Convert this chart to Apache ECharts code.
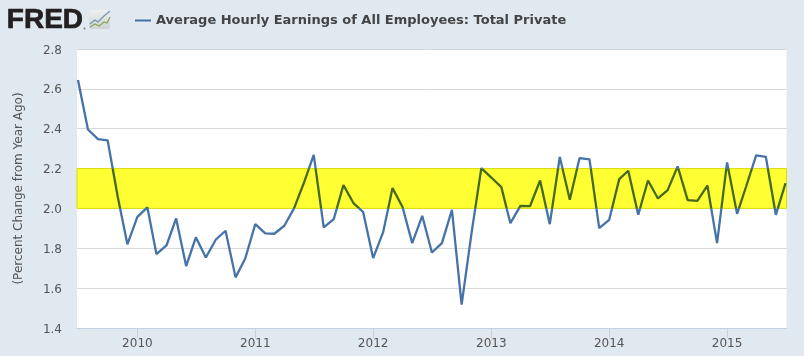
<!DOCTYPE html>
<html>
<head>
<meta charset="utf-8">
<title>Average Hourly Earnings</title>
<script src="https://cdn.jsdelivr.net/npm/echarts@6/dist/echarts.min.js"></script>
<style>
    html, body { margin: 0; padding: 0; background: #e1e9f0; }
    #chart { width: 804px; height: 356px; }
</style>
</head>
<body>
<div id="chart"></div>
<script>
const seriesName = 'Average Hourly Earnings of All Employees: Total Private';
const yAxisName = '(Percent Change from Year Ago)';

// monthly, 2009-07 to 2015-07
const startYear = 2009;
const startMonth = 7;
const earnings = [
    2.644, 2.396, 2.348, 2.341, 2.06, 1.82,
    1.958, 2.005, 1.771, 1.814, 1.95, 1.711, 1.855, 1.754, 1.844, 1.888, 1.654, 1.749,
    1.921, 1.875, 1.873, 1.913, 2.0, 2.13, 2.269, 1.905, 1.946, 2.117, 2.027, 1.982,
    1.751, 1.881, 2.102, 2.007, 1.826, 1.963, 1.779, 1.826, 1.993, 1.517, 1.88, 2.202,
    2.155, 2.107, 1.926, 2.013, 2.012, 2.14, 1.921, 2.258, 2.043, 2.252, 2.246, 1.901,
    1.943, 2.147, 2.189, 1.968, 2.14, 2.05, 2.092, 2.211, 2.042, 2.038, 2.115, 1.826,
    2.231, 1.973, 2.11, 2.266, 2.259, 1.968, 2.127
];
const yearTicks = [2010, 2011, 2012, 2013, 2014, 2015];
const bandLow = 2.0;
const bandHigh = 2.2;

const seriesData = earnings.map((v, i) => [new Date(startYear, startMonth - 1 + i, 1).getTime(), v]);
const yearStamps = yearTicks.map(y => new Date(y, 0, 1).getTime());

const fontName = '"DejaVu Sans", Verdana, sans-serif';
const lineBlue = '#4572a7';
const lineOlive = '#466a1c';

const myChart = echarts.init(document.getElementById('chart'));
const option = {
    animation: false,
    backgroundColor: '#e1e9f0',
    textStyle: { fontFamily: fontName },
    grid: { left: 77, right: 17.5, top: 49, bottom: 28, containLabel: false, backgroundColor: '#fff', show: true, borderWidth: 0 },
    legend: {
        left: 130,
        top: 9,
        itemWidth: 16,
        itemHeight: 2,
        selectedMode: false,
        data: [{ name: seriesName, icon: 'rect', itemStyle: { color: lineBlue } }],
        textStyle: { fontSize: 13, fontWeight: 'bold', color: '#444', fontFamily: fontName }
    },
    xAxis: {
        // plain value axis over timestamps, so the yearly ticks can be given directly
        type: 'value',
        min: new Date(2009, 5, 28).getTime(),
        max: new Date(2015, 6, 4).getTime(),
        axisLine: { lineStyle: { color: '#c0d0e0', width: 1 } },
        axisTick: {
            show: true,
            length: 10,
            lineStyle: { color: '#c0d0e0', width: 1 },
            customValues: yearStamps
        },
        axisLabel: {
            customValues: yearStamps,
            formatter: (v) => String(new Date(v).getFullYear()),
            color: '#555',
            fontSize: 12,
            margin: 10
        },
        splitLine: { show: false }
    },
    yAxis: {
        type: 'value',
        min: 1.4,
        max: 2.8,
        interval: 0.2,
        name: yAxisName,
        nameLocation: 'middle',
        nameGap: 52,
        nameTextStyle: { color: '#555', fontSize: 12 },
        axisLine: { show: false },
        axisTick: { show: false },
        axisLabel: {
            color: '#555',
            fontSize: 12,
            margin: 15,
            // labels sit a little below their gridlines
            verticalAlign: 'top',
            lineHeight: 3,
            formatter: (v) => v.toFixed(1)
        },
        splitLine: { lineStyle: { color: '#d8d8d8', width: 1 } }
    },
    visualMap: {
        show: false,
        type: 'piecewise',
        seriesIndex: 0,
        dimension: 1,
        pieces: [{ gt: bandLow, lte: bandHigh, color: lineOlive }],
        outOfRange: { color: lineBlue }
    },
    series: [{
        name: seriesName,
        type: 'line',
        data: seriesData,
        showSymbol: false,
        symbol: 'none',
        lineStyle: { width: 2.3 },
        markArea: {
            silent: true,
            itemStyle: { color: '#ffff33', borderColor: '#dada10', borderWidth: 1 },
            data: [[{ yAxis: bandLow }, { yAxis: bandHigh }]]
        }
    }],
    graphic: [
        { type: 'text', left: 6.5, top: 6, style: { text: 'FRED', fill: '#231f20', stroke: '#231f20', lineWidth: 0.7, font: 'bold 28px "Liberation Sans", Arial, sans-serif' } },
        { type: 'circle', shape: { cx: 84.5, cy: 28.5, r: 1 }, style: { fill: '#777' } },
        { type: 'rect', shape: { x: 89, y: 10, width: 21, height: 19, r: 2 },
          style: { fill: new echarts.graphic.LinearGradient(0, 0, 0, 1, [{ offset: 0, color: '#eef0f0' }, { offset: 1, color: '#cfd3d3' }]) } },
        { type: 'polyline', shape: { points: [[90, 24], [95, 20], [98, 22], [104, 16], [110, 11]] }, style: { stroke: '#6f96b8', lineWidth: 1.2, fill: null } },
        { type: 'polyline', shape: { points: [[90, 27], [95, 24], [99, 26], [104, 22], [107, 23], [110, 17]] }, style: { stroke: '#86a85a', lineWidth: 1.2, fill: null } }
    ]
};
myChart.setOption(option);
</script>
</body>
</html>
